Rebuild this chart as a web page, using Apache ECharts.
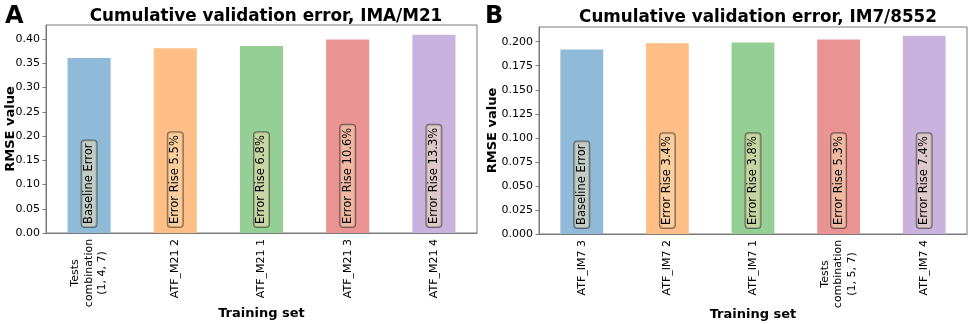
<!DOCTYPE html>
<html>
<head>
<meta charset="utf-8">
<script src="https://cdn.jsdelivr.net/npm/echarts@6/dist/echarts.min.js"></script>
<style>
html,body{margin:0;padding:0;background:#fff;}
#chart{width:969px;height:324px;}
</style>
</head>
<body>
<div id="chart"></div>
<script>
// ---- data ----
var catsA = ['Tests\ncombination\n(1, 4, 7)', 'ATF_M21 2', 'ATF_M21 1', 'ATF_M21 3', 'ATF_M21 4'];
var valsA = [0.361, 0.381, 0.3855, 0.3993, 0.409];
var labelsA = ['Baseline Error', 'Error Rise 5.5%', 'Error Rise 6.8%', 'Error Rise 10.6%', 'Error Rise 13.3%'];
var ticksA = [0.00, 0.05, 0.10, 0.15, 0.20, 0.25, 0.30, 0.35, 0.40];

var catsB = ['ATF_IM7 3', 'ATF_IM7 2', 'ATF_IM7 1', 'Tests\ncombination\n(1, 5, 7)', 'ATF_IM7 4'];
var valsB = [0.192, 0.1985, 0.1993, 0.2022, 0.2062];
var labelsB = ['Baseline Error', 'Error Rise 3.4%', 'Error Rise 3.8%', 'Error Rise 5.3%', 'Error Rise 7.4%'];
var ticksB = [0.000, 0.025, 0.050, 0.075, 0.100, 0.125, 0.150, 0.175, 0.200];

var titleA = 'Cumulative validation error, IMA/M21';
var titleB = 'Cumulative validation error, IM7/8552';

// ---- styles ----
var FONT = 'DejaVu Sans';
var barColors = ['#8fbbd9', '#ffbf86', '#95cf95', '#ea9393', '#c9b3de'];
var spine = '#7a7a7a';

function catLabel(v) {
  if (v.indexOf('\n') >= 0) {
    return v.split('\n').map(function (s) { return '{m|' + s + '}'; }).join('\n');
  }
  return v;
}

function xAxis(idx, cats) {
  return {
    type: 'category', gridIndex: idx, data: cats, boundaryGap: true,
    name: 'Training set', nameLocation: 'middle', nameGap: 74, nameMoveOverlap: false,
    nameTextStyle: {fontFamily: FONT, fontWeight: 'bold', fontSize: 13, color: '#000'},
    axisLine: {lineStyle: {color: spine, width: 1}},
    axisTick: {alignWithLabel: true, length: 3.5, lineStyle: {color: spine}},
    axisLabel: {
      rotate: 90, margin: 6, interval: 0,
      fontFamily: FONT, fontSize: 11, color: '#000', lineHeight: 13.5,
      formatter: catLabel,
      rich: {m: {fontFamily: FONT, fontSize: 11, color: '#000', width: 68, align: 'center', lineHeight: 13.5}}
    }
  };
}

function yAxis(idx, maxv, ticks, dec, gap) {
  return {
    type: 'value', gridIndex: idx, min: 0, max: maxv,
    name: 'RMSE value', nameLocation: 'middle', nameGap: gap, nameMoveOverlap: false,
    nameTextStyle: {fontFamily: FONT, fontWeight: 'bold', fontSize: 13, color: '#000'},
    axisLine: {show: true, lineStyle: {color: spine, width: 1}},
    axisTick: {show: true, length: 3.5, lineStyle: {color: spine}, customValues: ticks},
    axisLabel: {
      fontFamily: FONT, fontSize: 11, color: '#000', margin: 6,
      customValues: ticks,
      formatter: function (v) { return v.toFixed(dec); }
    },
    splitLine: {show: false}
  };
}

function barSeries(idx, vals, labels) {
  return {
    type: 'bar', xAxisIndex: idx, yAxisIndex: idx, barWidth: '50%',
    data: vals.map(function (v, i) {
      return {value: v, itemStyle: {color: barColors[i]}};
    }),
    label: {
      show: true, position: 'insideBottom', rotate: 90, align: 'left', verticalAlign: 'middle',
      distance: 6,
      formatter: function (p) { return labels[p.dataIndex]; },
      fontFamily: FONT, fontSize: 11.5, color: '#000',
      backgroundColor: 'rgba(245,222,179,0.5)',
      borderColor: 'rgba(0,0,0,0.45)', borderWidth: 1, borderRadius: 3,
      padding: [2, 3, 1, 3]
    },
    silent: true, animation: false
  };
}

var chart = echarts.init(document.getElementById('chart'), null, {renderer: 'canvas'});
chart.setOption({
  animation: false,
  backgroundColor: '#fff',
  title: [
    {text: 'A', left: 0, top: 0, textStyle: {fontFamily: FONT, fontWeight: 'bold', fontSize: 24, color: '#000'}},
    {text: 'B', left: 480, top: 0, textStyle: {fontFamily: FONT, fontWeight: 'bold', fontSize: 24, color: '#000'}},
    {text: titleA, left: 261, textAlign: 'center', top: 3, textStyle: {fontFamily: FONT, fontWeight: 'bold', fontSize: 16.8, color: '#000'}},
    {text: titleB, left: 753, textAlign: 'center', top: 4, textStyle: {fontFamily: FONT, fontWeight: 'bold', fontSize: 16.8, color: '#000'}}
  ],
  grid: [
    {left: 46, right: 492, top: 25, bottom: 91, show: true, borderColor: spine, borderWidth: 1, backgroundColor: 'transparent', outerBoundsMode: 'none', containLabel: false},
    {left: 539, right: 2, top: 27, bottom: 90, show: true, borderColor: spine, borderWidth: 1, backgroundColor: 'transparent', outerBoundsMode: 'none', containLabel: false}
  ],
  xAxis: [xAxis(0, catsA), xAxis(1, catsB)],
  yAxis: [yAxis(0, 0.4290, ticksA, 2, 28.5), yAxis(1, 0.2153, ticksB, 3, 39.5)],
  series: [barSeries(0, valsA, labelsA), barSeries(1, valsB, labelsB)]
});
</script>
</body>
</html>
